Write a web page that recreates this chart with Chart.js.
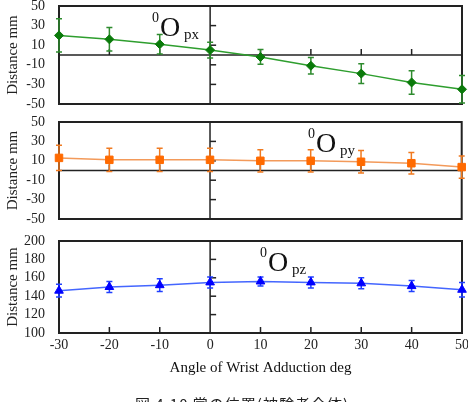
<!DOCTYPE html>
<html>
<head>
<meta charset="utf-8">
<script src="https://cdn.jsdelivr.net/npm/chart.js@4.4.1/dist/chart.umd.min.js"></script>
<style>
  html, body { margin: 0; padding: 0; background: #ffffff; }
  #wrap { position: relative; width: 468px; height: 402px; overflow: hidden; background: #fff; }
  canvas { position: absolute; left: 0; }
  .lbl { position: absolute; font-family: "Liberation Serif", "Times New Roman", serif; color: #111; line-height: 1; white-space: nowrap; }
  #caption { position: absolute; left: 135px; top: 396px; font-family: "Noto Sans CJK JP", sans-serif; font-size: 15px; line-height: 1; color: #222; letter-spacing: 1px; white-space: nowrap; }
</style>
</head>
<body>
<div id="wrap">
  <canvas id="c1" width="468" height="112" style="top:0px"></canvas>
  <canvas id="c2" width="468" height="114" style="top:114px"></canvas>
  <canvas id="c3" width="468" height="171" style="top:231px"></canvas>
  <div id="caption">図 4.10 掌の位置(被験者全体)</div>
</div>
<script>
// ---- data ----
const angles = [-30, -20, -10, 0, 10, 20, 30, 40, 50];
const pxMean = [20, 16, 11, 5, -2, -11, -19, -28, -35];
const pxErr  = [17, 12, 10, 8, 7.5, 8.5, 10, 12, 14];
const pyMean = [13, 11, 11, 11, 10, 10, 9, 7.5, 3.5];
const pyErr  = [13, 12, 12, 12, 11.5, 11.5, 11.5, 11, 11.5];
const pzMean = [146, 150, 152, 155, 156, 155, 154, 151, 147];
const pzErr  = [7, 6, 7, 6, 5, 6, 6, 6, 8];
const yTicks1 = [-50, 50];
const yTicks3 = [100, 200];
const xRange = [-30, 50];
const xTitle = 'Angle of Wrist Adduction deg';
const yTitle = 'Distance mm';

const SERIF = '"Liberation Serif", "Times New Roman", serif';

const decorPlugin = {
  id: 'decor',
  beforeDatasetsDraw(chart, args, opts) {
    const ctx = chart.ctx;
    const a = chart.chartArea;
    const xs = chart.scales.x, ys = chart.scales.y;
    ctx.save();
    // frame
    ctx.strokeStyle = '#222';
    ctx.lineWidth = 2;
    ctx.strokeRect(a.left, a.top, a.right - a.left, a.bottom - a.top);
    ctx.lineWidth = 1.5;
    // vertical line at x = 0
    const x0 = xs.getPixelForValue(0);
    ctx.beginPath(); ctx.moveTo(x0, a.top); ctx.lineTo(x0, a.bottom); ctx.stroke();
    // y ticks on the x=0 line, pointing right
    ys.ticks.forEach(t => {
      if (t.value <= ys.min || t.value >= ys.max) return;
      const py = ys.getPixelForValue(t.value);
      ctx.beginPath(); ctx.moveTo(x0, py); ctx.lineTo(x0 + 6, py); ctx.stroke();
    });
    // x baseline: zero line or bottom
    let yb;
    if (opts.zeroLine) {
      yb = ys.getPixelForValue(0);
      ctx.beginPath(); ctx.moveTo(a.left, yb); ctx.lineTo(a.right, yb); ctx.stroke();
    } else {
      yb = a.bottom;
    }
    xs.ticks.forEach(t => {
      if (t.value <= xs.min || t.value >= xs.max || t.value === 0) return;
      const px = xs.getPixelForValue(t.value);
      ctx.beginPath(); ctx.moveTo(px, yb); ctx.lineTo(px, yb - 6); ctx.stroke();
    });
    // error bars
    chart.data.datasets.forEach((ds, i) => {
      const meta = chart.getDatasetMeta(i);
      ctx.strokeStyle = ds.errColor;
      ctx.lineWidth = 1.5;
      meta.data.forEach((el, j) => {
        const m = ds.data[j].y, e = ds.errors[j];
        const yt = ys.getPixelForValue(m + e), ybm = ys.getPixelForValue(m - e);
        const cx = el.x, cap = 3;
        ctx.beginPath();
        ctx.moveTo(cx, yt); ctx.lineTo(cx, ybm);
        ctx.moveTo(cx - cap, yt); ctx.lineTo(cx + cap, yt);
        ctx.moveTo(cx - cap, ybm); ctx.lineTo(cx + cap, ybm);
        ctx.stroke();
      });
    });
    ctx.restore();
  }
};

function makeChart(id, cfg) {
  const ctx = document.getElementById(id);
  return new Chart(ctx, {
    type: 'line',
    data: {
      datasets: [{
        data: angles.map((a, i) => ({ x: a, y: cfg.means[i] })),
        errors: cfg.errs,
        errColor: cfg.errColor,
        borderColor: cfg.lineColor,
        borderWidth: 1.5,
        backgroundColor: cfg.pointColor,
        pointBackgroundColor: cfg.pointColor,
        pointBorderColor: cfg.pointColor,
        pointStyle: cfg.pointStyle,
        pointRadius: cfg.radius,
        pointBorderWidth: 1,
        tension: 0,
        clip: false
      }]
    },
    options: {
      responsive: false,
      devicePixelRatio: 1,
      animation: false,
      events: [],
      layout: { padding: cfg.padding },
      plugins: { legend: { display: false }, tooltip: { enabled: false }, decor: { zeroLine: cfg.zeroLine } },
      scales: {
        x: {
          type: 'linear',
          min: xRange[0], max: xRange[1],
          display: cfg.showX,
          grid: { display: false, drawTicks: false },
          border: { display: false },
          ticks: { stepSize: 10, autoSkip: false, maxRotation: 0, color: '#222', padding: 4, font: { family: SERIF, size: 14 } },
          title: { display: cfg.showX, text: xTitle, color: '#111', padding: 0, font: { family: SERIF, size: 15 } },
          afterFit(scale) {
            if (cfg.showX) scale.height = cfg.xHeight;
            scale.paddingLeft = 0; scale.paddingRight = 0;
          }
        },
        y: {
          type: 'linear',
          min: cfg.yRange[0], max: cfg.yRange[1],
          grid: { display: false, drawTicks: false },
          border: { display: false },
          ticks: { stepSize: 20, autoSkip: false, color: '#222', padding: 14, font: { family: SERIF, size: 14 } },
          title: { display: true, text: yTitle, color: '#222', padding: { top: 4, bottom: 0 }, font: { family: SERIF, size: 15 } },
          afterFit(scale) {
            scale.width = 59;
            scale.paddingTop = 0; scale.paddingBottom = 0;
          }
        }
      }
    },
    plugins: [decorPlugin]
  });
}

makeChart('c1', {
  means: pxMean, errs: pxErr, pointColor: '#0a7a0a', lineColor: '#2e9e2e', errColor: '#2e8b2e',
  pointStyle: 'rectRot', radius: 4.5, yRange: yTicks1, zeroLine: true, showX: false,
  padding: { top: 6, bottom: 8, left: 0, right: 6 }
});
makeChart('c2', {
  means: pyMean, errs: pyErr, pointColor: '#ff6a00', lineColor: '#f39a5a', errColor: '#f07a20',
  pointStyle: 'rect', radius: 5.3, yRange: yTicks1, zeroLine: true, showX: false,
  padding: { top: 8, bottom: 9, left: 0, right: 6 }
});
makeChart('c3', {
  means: pzMean, errs: pzErr, pointColor: '#0000ff', lineColor: '#4466ff', errColor: '#2040ff',
  pointStyle: 'triangle', radius: 5, yRange: yTicks3, zeroLine: false, showX: true, xHeight: 44,
  padding: { top: 10, bottom: 25, left: 0, right: 6 }
});

// ---- annotation labels  0O_px / 0O_py / 0O_pz ----
const labels = [
  { sub: 'px', x: 152, base: 36 },
  { sub: 'py', x: 308, base: 152 },
  { sub: 'pz', x: 260, base: 271 }
];
const wrap = document.getElementById('wrap');
function place(text, left, baseline, size) {
  const d = document.createElement('div');
  d.className = 'lbl';
  d.textContent = text;
  d.style.fontSize = size + 'px';
  d.style.left = left + 'px';
  d.style.top = (baseline - 0.8375 * size) + 'px';
  wrap.appendChild(d);
}
labels.forEach(l => {
  place('0', l.x, l.base - 13, 14);
  place('O', l.x + 8, l.base, 28);
  place(l.sub, l.x + 32, l.base + 4, 15);
});
</script>
</body>
</html>
